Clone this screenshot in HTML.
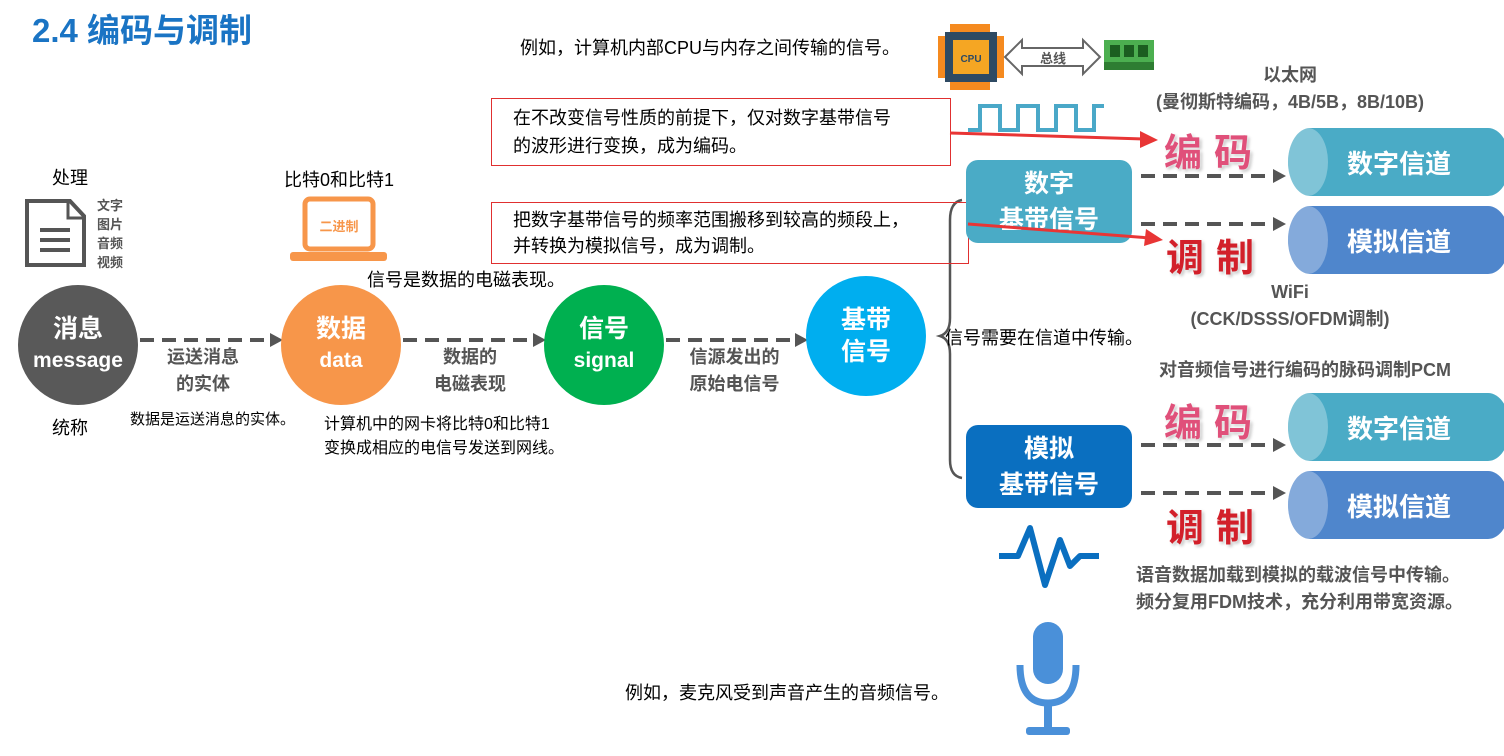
<!DOCTYPE html>
<html><head><meta charset="utf-8"><style>
body{margin:0;width:1504px;height:756px;background:#fff;position:relative;overflow:hidden;font-family:"Liberation Sans","Noto Sans CJK SC",sans-serif;}
.a{position:absolute;white-space:nowrap;}
.t{font-size:18px;color:#000;}
.g{font-size:18px;color:#555;font-weight:bold;text-align:center;line-height:27px;}
.c{position:absolute;border-radius:50%;color:#fff;font-weight:bold;text-align:center;display:flex;flex-direction:column;justify-content:center;align-items:center;}
.box{position:absolute;border-radius:12px;color:#fff;font-weight:bold;font-size:25px;text-align:center;line-height:36px;display:flex;flex-direction:column;justify-content:center;}
.cyl{position:absolute;width:222px;height:68px;border-radius:22px/34px;color:#fff;font-weight:bold;font-size:26px;display:flex;align-items:center;justify-content:center;}
.cyl::before{content:"";position:absolute;left:0;top:0;width:40px;height:68px;border-radius:50%;background:rgba(255,255,255,.3);}
.big{position:absolute;font-size:38px;font-weight:bold;letter-spacing:12px;text-shadow:0 0 3px #fff,2px 2px 3px #bbb;}
.red{position:absolute;border:1px solid #e03030;}
</style></head><body>
<div class="a" style="left:32px;top:4px;font-size:33px;font-weight:bold;color:#1a74c4;">2.4 编码与调制</div>
<div class="a t" style="left:520px;top:34px;">例如，计算机内部CPU与内存之间传输的信号。</div>
<svg class="a" style="left:0;top:0" width="1504" height="756">
<g fill="#f58a1f"><rect x="950" y="24" width="40" height="66"/><rect x="938" y="36" width="66" height="42"/></g>
<rect x="945" y="32" width="52" height="50" fill="#2e4a63"/>
<rect x="953" y="40" width="36" height="34" fill="#f5a623"/>
<text x="971" y="62" font-size="10" font-weight="bold" text-anchor="middle" fill="#2e4a63">CPU</text>
<polygon points="1005,57 1022,40 1022,48 1083,48 1083,40 1100,57 1083,74 1083,66 1022,66 1022,74" fill="#fff" stroke="#666" stroke-width="2"/>
<text x="1053" y="63" font-size="13" font-weight="bold" text-anchor="middle" fill="#555">总线</text>
<rect x="1104" y="40" width="50" height="24" fill="#4caf50"/><rect x="1104" y="62" width="50" height="8" fill="#2e7d32"/>
<g fill="#1b5e20"><rect x="1110" y="45" width="10" height="12"/><rect x="1124" y="45" width="10" height="12"/><rect x="1138" y="45" width="10" height="12"/></g>
<polyline points="968,130 980,130 980,106 1000,106 1000,130 1018,130 1018,106 1038,106 1038,130 1056,130 1056,106 1076,106 1076,130 1094,130 1094,106 1104,106" fill="none" stroke="#4aa8c8" stroke-width="4"/>
<g stroke="#555" stroke-width="4" stroke-dasharray="14,8" fill="none">
<line x1="140" y1="340" x2="272" y2="340"/><line x1="403" y1="340" x2="535" y2="340"/><line x1="666" y1="340" x2="797" y2="340"/>
<line x1="1141" y1="176" x2="1275" y2="176"/><line x1="1141" y1="224" x2="1275" y2="224"/>
<line x1="1141" y1="445" x2="1275" y2="445"/><line x1="1141" y1="493" x2="1275" y2="493"/>
</g>
<g fill="#555"><polygon points="270,333 283,340 270,347"/><polygon points="533,333 546,340 533,347"/><polygon points="795,333 808,340 795,347"/>
<polygon points="1273,169 1286,176 1273,183"/><polygon points="1273,217 1286,224 1273,231"/><polygon points="1273,438 1286,445 1273,452"/><polygon points="1273,486 1286,493 1273,500"/></g>
<path d="M962,200 Q950,202 950,220 L950,318 Q950,333 940,336 Q950,339 950,354 L950,460 Q950,476 962,478" fill="none" stroke="#555" stroke-width="2.5"/>
<polyline points="999,556 1018,556 1030,528 1045,585 1060,540 1070,566 1080,556 1099,556" fill="none" stroke="#0a6fc0" stroke-width="6" stroke-linejoin="round"/>
<rect x="1033" y="622" width="30" height="62" rx="15" fill="#4a90d9"/>
<path d="M1020,665 Q1020,703 1048,703 Q1076,703 1076,665" fill="none" stroke="#4a90d9" stroke-width="7"/>
<rect x="1044" y="703" width="8" height="26" fill="#4a90d9"/><rect x="1026" y="727" width="44" height="8" rx="3" fill="#4a90d9"/>
<path d="M27,201 L70,201 L84,216 L84,265 L27,265 Z" fill="none" stroke="#555" stroke-width="4"/>
<path d="M68,201 L68,218 L84,218" fill="none" stroke="#555" stroke-width="3"/>
<g fill="#555"><rect x="40" y="228" width="30" height="4"/><rect x="40" y="238" width="30" height="4"/><rect x="40" y="248" width="30" height="4"/></g>
<rect x="305" y="199" width="68" height="50" rx="5" fill="none" stroke="#f7964a" stroke-width="5"/>
<rect x="290" y="252" width="97" height="9" rx="3" fill="#f7964a"/>
<text x="339" y="231" font-size="13" font-weight="bold" text-anchor="middle" fill="#f7964a">二进制</text>
</svg>
<div class="a" style="left:97px;top:196px;font-size:13px;font-weight:bold;color:#555;line-height:19px;">文字<br>图片<br>音频<br>视频</div>
<div class="a t" style="left:52px;top:164px;">处理</div>
<div class="a t" style="left:284px;top:166px;">比特0和比特1</div>
<div class="a t" style="left:367px;top:266px;">信号是数据的电磁表现。</div>
<div class="a t" style="left:52px;top:414px;">统称</div>
<div class="a" style="left:130px;top:408px;font-size:15px;">数据是运送消息的实体。</div>
<div class="a" style="left:324px;top:413px;font-size:16px;line-height:24px;">计算机中的网卡将比特0和比特1<br>变换成相应的电信号发送到网线。</div>
<div class="c" style="left:18px;top:285px;width:120px;height:120px;background:#595959;font-size:25px;line-height:32px;">消息<br><span style="font-size:21px">message</span></div>
<div class="c" style="left:281px;top:285px;width:120px;height:120px;background:#f7964a;font-size:25px;line-height:32px;">数据<br><span style="font-size:21px">data</span></div>
<div class="c" style="left:544px;top:285px;width:120px;height:120px;background:#00b050;font-size:25px;line-height:32px;">信号<br><span style="font-size:21px">signal</span></div>
<div class="c" style="left:806px;top:276px;width:120px;height:120px;background:#00aeef;font-size:25px;line-height:32px;">基带<br>信号</div>
<div class="a g" style="left:143px;top:344px;width:120px;">运送消息<br>的实体</div>
<div class="a g" style="left:410px;top:344px;width:120px;">数据的<br>电磁表现</div>
<div class="a g" style="left:672px;top:344px;width:125px;">信源发出的<br>原始电信号</div>
<div class="red" style="left:491px;top:98px;width:458px;height:66px;"></div>
<div class="a t" style="left:513px;top:104px;line-height:28px;">在不改变信号性质的前提下，仅对数字基带信号<br>的波形进行变换，成为编码。</div>
<div class="red" style="left:491px;top:202px;width:476px;height:60px;"></div>
<div class="a t" style="left:513px;top:207px;line-height:26px;">把数字基带信号的频率范围搬移到较高的频段上，<br>并转换为模拟信号，成为调制。</div>
<div class="a t" style="left:945px;top:324px;">信号需要在信道中传输。</div>
<div class="a t" style="left:625px;top:679px;">例如，麦克风受到声音产生的音频信号。</div>
<div class="box" style="left:966px;top:160px;width:166px;height:83px;background:#4aabc6;">数字<br>基带信号</div>
<div class="box" style="left:966px;top:425px;width:166px;height:83px;background:#0a6fc0;">模拟<br>基带信号</div>
<div class="big" style="left:1164px;top:122px;color:#e0507a;">编码</div>
<div class="big" style="left:1166px;top:227px;color:#d2202a;">调制</div>
<div class="big" style="left:1164px;top:392px;color:#e0507a;">编码</div>
<div class="big" style="left:1166px;top:497px;color:#d2202a;">调制</div>
<div class="cyl" style="left:1288px;top:128px;background:#4aabc6;">数字信道</div>
<div class="cyl" style="left:1288px;top:206px;background:#4f86cc;">模拟信道</div>
<div class="cyl" style="left:1288px;top:393px;background:#4aabc6;">数字信道</div>
<div class="cyl" style="left:1288px;top:471px;background:#4f86cc;">模拟信道</div>
<div class="a g" style="left:1090px;top:62px;width:400px;">以太网<br>(曼彻斯特编码，4B/5B，8B/10B)</div>
<div class="a g" style="left:1090px;top:279px;width:400px;">WiFi<br>(CCK/DSSS/OFDM调制)</div>
<div class="a g" style="left:1105px;top:357px;width:400px;">对音频信号进行编码的脉码调制PCM</div>
<div class="a g" style="left:1136px;top:562px;text-align:left;line-height:27px;">语音数据加载到模拟的载波信号中传输。<br>频分复用FDM技术，充分利用带宽资源。</div>
<svg class="a" style="left:0;top:0" width="1504" height="756">
<line x1="950" y1="133" x2="1145" y2="139" stroke="#e83535" stroke-width="3"/>
<polygon points="1158,140 1140,131 1140,148" fill="#e83535"/>
<line x1="968" y1="224" x2="1150" y2="238" stroke="#e83535" stroke-width="3"/>
<polygon points="1163,240 1146,229 1144,246" fill="#e83535"/>
</svg>
</body></html>
